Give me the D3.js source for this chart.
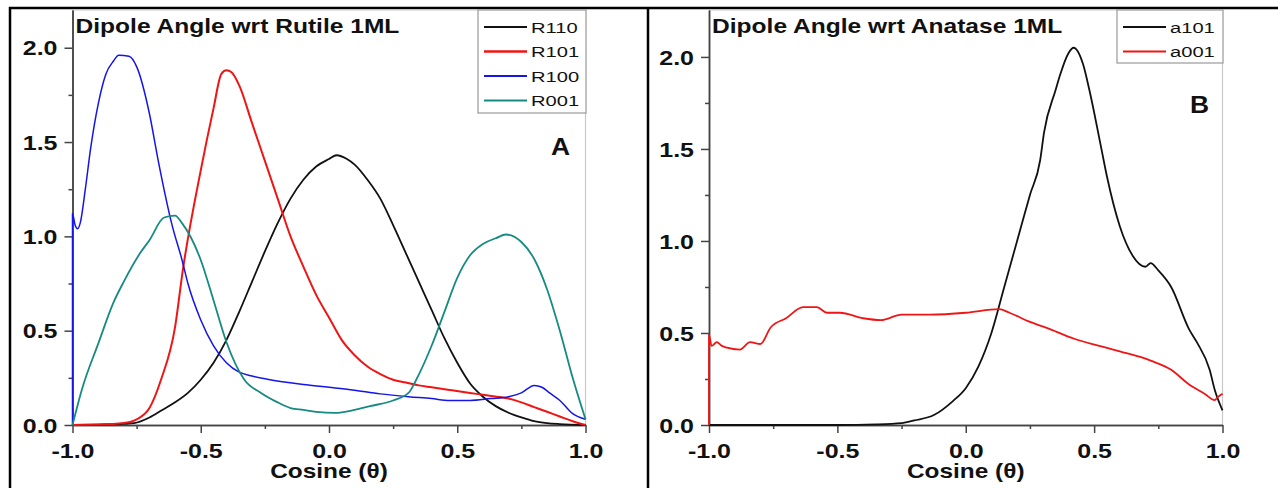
<!DOCTYPE html>
<html>
<head>
<meta charset="utf-8">
<script src="https://cdn.jsdelivr.net/npm/d3@7/dist/d3.min.js"></script>
<style>
  body { margin: 0; background: #fff; }
  svg text { font-family: "Liberation Sans", Arial, sans-serif; }
</style>
</head>
<body>
<div id="chart"></div>
<script>
// ---- data: [cosine, probability density] ----
var r110 = [[-1,0],[-0.9,0.002],[-0.8,0.006],[-0.76,0.01],[-0.7,0.04],[-0.65,0.08],[-0.6,0.12],[-0.55,0.17],
  [-0.5,0.24],[-0.45,0.33],[-0.4,0.45],[-0.35,0.6],[-0.3,0.76],[-0.25,0.92],[-0.2,1.07],[-0.15,1.2],
  [-0.1,1.3],[-0.05,1.37],[0,1.41],[0.03,1.43],[0.07,1.41],[0.1,1.38],[0.15,1.3],[0.2,1.2],[0.25,1.06],
  [0.3,0.91],[0.35,0.76],[0.4,0.61],[0.45,0.46],[0.5,0.33],[0.55,0.22],[0.6,0.15],[0.65,0.1],
  [0.7,0.065],[0.75,0.04],[0.8,0.02],[0.85,0.01],[0.9,0.005],[1,0]]
var r101 = [[-1,0],[-0.9,0.002],[-0.8,0.01],[-0.75,0.03],[-0.7,0.09],[-0.655,0.24],[-0.6,0.52],
  [-0.57,0.82],[-0.5,1.35],[-0.45,1.68],[-0.42,1.86],[-0.4,1.88],[-0.38,1.87],[-0.35,1.8],[-0.3,1.6],
  [-0.25,1.4],[-0.2,1.2],[-0.15,1.0],[-0.1,0.84],[-0.05,0.69],[0,0.57],[0.05,0.45],[0.1,0.37],
  [0.15,0.31],[0.2,0.27],[0.25,0.24],[0.3,0.225],[0.35,0.21],[0.4,0.2],[0.47,0.186],[0.55,0.17],
  [0.6,0.16],[0.7,0.14],[0.75,0.12],[0.8,0.095],[0.85,0.07],[0.9,0.045],[0.95,0.02],[1,0]]
var r100 = [[-1,0],[-1,1.12],[-0.99,1.06],[-0.98,1.04],[-0.97,1.07],[-0.95,1.25],[-0.93,1.46],
  [-0.9,1.7],[-0.87,1.86],[-0.84,1.93],[-0.82,1.96],[-0.78,1.955],[-0.75,1.9],[-0.7,1.65],
  [-0.667,1.41],[-0.61,1.05],[-0.573,0.875],[-0.55,0.75],[-0.5,0.557],[-0.45,0.42],[-0.4,0.33],
  [-0.35,0.28],[-0.3,0.26],[-0.23,0.24],[-0.1,0.215],[0,0.2],[0.09,0.186],[0.2,0.165],[0.31,0.15],
  [0.4,0.14],[0.47,0.13],[0.55,0.13],[0.63,0.14],[0.7,0.15],[0.75,0.17],[0.8,0.21],[0.83,0.2],
  [0.86,0.17],[0.9,0.13],[0.95,0.06],[1,0.03]]
var r001 = [[-1,0],[-0.963,0.19],[-0.9,0.43],[-0.84,0.65],[-0.8,0.76],[-0.737,0.91],[-0.7,0.98],
  [-0.643,1.1],[-0.6,1.11],[-0.573,1.07],[-0.5,0.875],[-0.45,0.66],[-0.4,0.44],[-0.33,0.24],
  [-0.265,0.17],[-0.2,0.12],[-0.15,0.09],[-0.1,0.08],[-0.05,0.07],[0.023,0.064],[0.1,0.08],
  [0.16,0.1],[0.25,0.13],[0.31,0.17],[0.34,0.24],[0.4,0.42],[0.45,0.6],[0.5,0.78],[0.55,0.9],
  [0.6,0.96],[0.65,0.99],[0.69,1.01],[0.75,0.97],[0.8,0.88],[0.85,0.72],[0.9,0.5],[0.95,0.25],[1,0.03]]

var a101 = [[-1,0],[-0.5,0],[-0.35,0.003],[-0.25,0.01],[-0.2,0.025],[-0.124,0.054],[-0.05,0.13],
  [0,0.2],[0.05,0.32],[0.1,0.5],[0.15,0.75],[0.2,1.0],[0.25,1.25],[0.29,1.44],[0.305,1.59],
  [0.35,1.82],[0.367,1.9],[0.4,2.02],[0.42,2.05],[0.457,1.96],[0.48,1.83],[0.527,1.51],[0.55,1.35],
  [0.6,1.08],[0.65,0.92],[0.7,0.86],[0.72,0.88],[0.75,0.84],[0.8,0.75],[0.87,0.52],[0.9,0.45],
  [0.95,0.3],[0.97,0.19],[1,0.08]]
var a001 = [[-1,0],[-1,0.49],[-0.99,0.43],[-0.97,0.45],[-0.95,0.43],[-0.93,0.42],[-0.88,0.41],
  [-0.84,0.45],[-0.8,0.44],[-0.76,0.53],[-0.7,0.58],[-0.634,0.64],[-0.58,0.64],[-0.54,0.61],
  [-0.49,0.61],[-0.4,0.58],[-0.33,0.57],[-0.25,0.6],[-0.14,0.6],[0,0.61],[0.13,0.63],[0.17,0.61],
  [0.25,0.56],[0.33,0.52],[0.42,0.47],[0.52,0.43],[0.6,0.4],[0.72,0.35],[0.8,0.3],[0.87,0.22],
  [0.93,0.17],[0.97,0.135],[0.98,0.15],[1,0.17]]

var xTicks = [-1.0, -0.5, 0.0, 0.5, 1.0]
var xMinor = [-0.75, -0.25, 0.25, 0.75]
var yTicks = [0.0, 0.5, 1.0, 1.5, 2.0]
var yMinor = [0.25, 0.75, 1.25, 1.75]

/**
 * 面板配置
 */
var panels = [
  {
    title: 'Dipole Angle wrt Rutile 1ML', letter: 'A',
    left: 72.5, right: 585.5, yMax: 2.2,
    series: [
      { name: 'R110', data: r110, color: '#111111', width: 1.8 },
      { name: 'R101', data: r101, color: '#f01515', width: 2 },
      { name: 'R100', data: r100, color: '#1515e8', width: 1.5 },
      { name: 'R001', data: r001, color: '#178a82', width: 1.8 },
    ],
    legend: { x: 478, y: 10, w: 108, h: 103 },
    letterPos: [551, 155],
  },
  {
    title: 'Dipole Angle wrt Anatase 1ML', letter: 'B',
    left: 709, right: 1222.5, yMax: 2.255,
    series: [
      { name: 'a101', data: a101, color: '#111111', width: 1.8 },
      { name: 'a001', data: a001, color: '#f01515', width: 1.8 },
    ],
    legend: { x: 1117, y: 10, w: 106, h: 53 },
    letterPos: [1190, 113],
  },
]

var width = 1278
var height = 488
var plotTop = 10
var plotBottom = 425
var sx = 1.25   // the figure is stretched horizontally
var fmt = d => d3.format('.1f')(d).replace('−', '-')

var svg = d3.select('#chart')
  .append('svg')
  .attr('width', width)
  .attr('height', height)

// 外框和分隔线
var frame = svg.append('g').attr('stroke', '#000').attr('stroke-width', 2.5)
frame.append('line').attr('x1', 9).attr('x2', width).attr('y1', 8).attr('y2', 8)
frame.append('line').attr('x1', 10).attr('x2', 10).attr('y1', 7).attr('y2', height)
frame.append('line').attr('x1', 648).attr('x2', 648).attr('y1', 7).attr('y2', height)

function stretchText(g, str, x, y, size, weight, scaleX, anchor) {
  return g.append('text')
    .text(str)
    .attr('transform', `translate(${x},${y}) scale(${scaleX},1)`)
    .attr('text-anchor', anchor || 'start')
    .attr('font-size', size)
    .attr('font-weight', weight)
    .attr('fill', '#111')
}

panels.forEach(p => {
  var x = d3.scaleLinear().domain([-1, 1]).range([p.left, p.right])
  var y = d3.scaleLinear().domain([0, p.yMax]).range([plotBottom, plotTop])
  var g = svg.append('g')

  // 上、右边框 (浅灰)
  g.append('path')
    .attr('d', `M${p.left},${plotTop}H${p.right}V${plotBottom}`)
    .attr('fill', 'none')
    .attr('stroke', '#c8c8c8')
    .attr('stroke-width', 1.2)

  // 次刻度
  g.append('g')
    .attr('transform', `translate(0,${plotBottom})`)
    .call(d3.axisBottom(x).tickValues(xMinor).tickSize(4).tickFormat('').tickSizeOuter(0))
  g.append('g')
    .attr('transform', `translate(${p.left},0)`)
    .call(d3.axisLeft(y).tickValues(yMinor).tickSize(4).tickFormat('').tickSizeOuter(0))

  // 主刻度
  var xAxis = g.append('g')
    .attr('transform', `translate(0,${plotBottom})`)
    .call(d3.axisBottom(x).tickValues(xTicks).tickSize(8).tickSizeOuter(0).tickFormat(fmt))
  xAxis.selectAll('text')
    .attr('y', 33).attr('dy', 0)
    .attr('transform', `scale(${sx},1)`)
    .attr('font-size', 20).attr('font-weight', 'bold').attr('fill', '#111')

  var yAxis = g.append('g')
    .attr('transform', `translate(${p.left},0)`)
    .call(d3.axisLeft(y).tickValues(yTicks).tickSize(8).tickSizeOuter(0).tickFormat(fmt))
  yAxis.selectAll('text')
    .attr('x', -15 / sx).attr('dy', '0.36em')
    .attr('transform', `scale(${sx},1)`)
    .attr('font-size', 20).attr('font-weight', 'bold').attr('fill', '#111')

  g.selectAll('.domain, .tick line').attr('stroke', '#444').attr('stroke-width', 1.5)

  // 曲线
  var line = d3.line()
    .x(d => x(d[0]))
    .y(d => y(d[1]))
    .curve(d3.curveMonotoneX)

  g.selectAll('.curve')
    .data(p.series)
    .enter()
    .append('path')
    .attr('class', 'curve')
    .attr('d', d => line(d.data))
    .attr('fill', 'none')
    .attr('stroke', d => d.color)
    .attr('stroke-width', d => d.width)
    .attr('stroke-linejoin', 'round')

  // 图例
  var lg = g.append('g')
  lg.append('rect')
    .attr('x', p.legend.x).attr('y', p.legend.y)
    .attr('width', p.legend.w).attr('height', p.legend.h)
    .attr('fill', '#fff')
    .attr('stroke', '#999')
    .attr('stroke-width', 1.2)
  p.series.forEach((s, i) => {
    var ly = p.legend.y + 17 + i * 24.5
    lg.append('line')
      .attr('x1', p.legend.x + 6).attr('x2', p.legend.x + 49)
      .attr('y1', ly).attr('y2', ly)
      .attr('stroke', s.color)
      .attr('stroke-width', s.width + 0.3)
    stretchText(lg, s.name, p.legend.x + 53, ly + 5.5, 15.5, 'normal', 1.3)
  })

  // 标题、字母、坐标轴标题
  stretchText(g, p.title, p.left + 3, 33, 19.5, 'bold', 1.26)
  stretchText(g, p.letter, p.letterPos[0], p.letterPos[1], 24, 'bold', 1.1)
  stretchText(g, 'Cosine (θ)', (p.left + p.right) / 2, 478, 20, 'bold', 1.22, 'middle')
})
</script>
</body>
</html>
